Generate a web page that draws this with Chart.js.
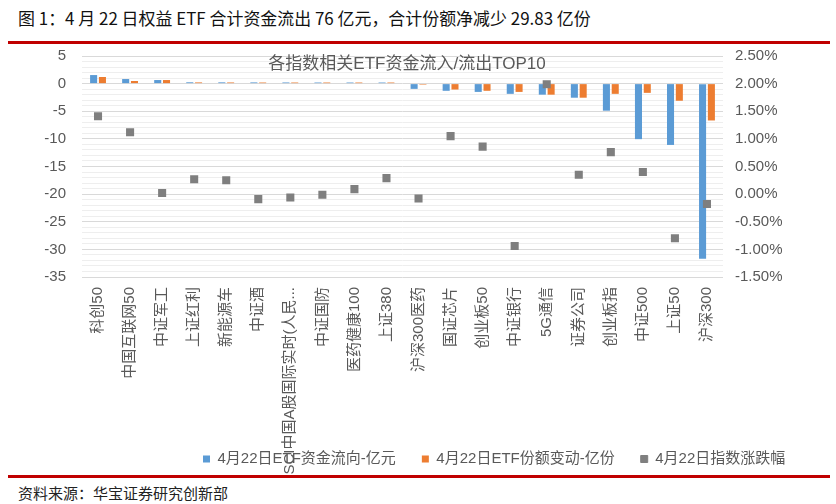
<!DOCTYPE html>
<html>
<head>
<meta charset="utf-8">
<script src="https://cdn.jsdelivr.net/npm/chart.js@4.4.1/dist/chart.umd.min.js"></script>
<style>
  body { margin: 0; background: #fff; width: 836px; height: 504px; position: relative; overflow: hidden; }
  #title { position: absolute; left: 18px; top: 5px; font: 17px "Noto Sans CJK SC", sans-serif; color: #111; white-space: nowrap; transform-origin: left top; }
  .redline { position: absolute; left: 8px; width: 822px; height: 3px; background: #c00000; }
  #chartTitle { position: absolute; left: 207px; width: 400px; top: 49px; text-align: center; font: 17px "Liberation Sans", "Noto Sans CJK SC", sans-serif; color: #595959; }
  #source { position: absolute; left: 18px; top: 482px; font: 15px "Noto Sans CJK SC", sans-serif; color: #222; white-space: nowrap; }
  #wrap { position: absolute; left: 0; top: 31px; }
</style>
</head>
<body>
<div id="title">图 1：4 月 22 日权益 ETF 合计资金流出 76 亿元，合计份额净减少 29.83 亿份</div>
<div class="redline" style="top:41px"></div>
<div id="wrap"><canvas id="myChart" width="836" height="445"></canvas></div>
<div id="chartTitle">各指数相关ETF资金流入/流出TOP10</div>
<div class="redline" style="top:475px"></div>
<div id="source">资料来源：华宝证券研究创新部</div>
<script>
const labels = ["科创50", "中国互联网50", "中证军工", "上证红利", "新能源车", "中证酒",
  "MSCI中国A股国际实时(人民...", "中证国防", "医药健康100", "上证380", "沪深300医药",
  "国证芯片", "创业板50", "中证银行", "5G通信", "证券公司", "创业板指", "中证500", "上证50", "沪深300"];

// 4月22日ETF资金流向-亿元
const flow = [1.55, 0.83, 0.65, 0.24, 0.23, 0.22, 0.21, 0.2, 0.2, 0.2,
  -0.95, -1.3, -1.5, -1.85, -2.0, -2.55, -4.9, -10.05, -11.1, -31.7];
// 4月22日ETF份额变动-亿份
const share = [1.2, 0.48, 0.65, 0.22, 0.21, 0.2, 0.2, 0.2, 0.2, 0.2,
  -0.18, -1.07, -1.3, -1.5, -2.0, -2.55, -1.85, -1.67, -3.1, -6.67];
// 4月22日指数涨跌幅 (%)
const pct = [1.41, 1.12, 0.02, 0.27, 0.25, -0.09, -0.06, -0.01, 0.09, 0.29,
  -0.08, 1.05, 0.86, -0.94, 1.99, 0.35, 0.76, 0.40, -0.80, -0.18];

const seriesNames = ["4月22日ETF资金流向-亿元", "4月22日ETF份额变动-亿份", "4月22日指数涨跌幅"];

// fit title to the original width
const t = document.getElementById("title");
t.style.transform = "scaleX(" + (573 / t.offsetWidth) + ")";

Chart.defaults.font.family = '"Liberation Sans", "Noto Sans CJK SC", sans-serif';
Chart.defaults.font.size = 15;
Chart.defaults.color = "#595959";

const CANVAS_H = 445;
const PLOT_BOTTOM = 246;

// place legend like the excel one, let the long label run under it
const legendPos = {
  id: "legendPos",
  afterLayout(chart) {
    const lg = chart.legend;
    lg.left = 203 - 26;
    lg.top = 428 - 26 - 7.5;
    chart.scales.x.bottom = CANVAS_H;
  },
};

new Chart(document.getElementById("myChart"), {
  type: "bar",
  data: {
    labels: labels,
    datasets: [
      {
        label: seriesNames[0],
        data: flow,
        backgroundColor: "#5b9bd5",
        yAxisID: "y",
        order: 1,
      },
      {
        label: seriesNames[1],
        data: share,
        backgroundColor: "#ed7d31",
        yAxisID: "y",
        order: 1,
      },
      {
        type: "line",
        label: seriesNames[2],
        data: pct,
        showLine: false,
        backgroundColor: "#7f7f7f",
        borderColor: "#7f7f7f",
        borderWidth: 1,
        pointStyle: "rect",
        pointRadius: 5.7,
        pointBorderWidth: 0,
        yAxisID: "y1",
        order: 0,
      },
    ],
  },
  options: {
    responsive: false,
    animation: false,
    categoryPercentage: 0.55,
    barPercentage: 0.8,
    layout: { padding: { top: 10, left: 0, right: 0, bottom: 0 } },
    plugins: {
      legend: {
        position: "bottom",
        align: "start",
        labels: {
          boxWidth: 7,
          boxHeight: 7,
          padding: 26,
          color: "#595959",
          font: { size: 15 },
          sort: (a, b) => a.datasetIndex - b.datasetIndex,
        },
      },
      tooltip: { enabled: false },
    },
    scales: {
      x: {
        grid: { display: false, drawTicks: false },
        border: { display: false },
        ticks: { minRotation: 90, maxRotation: 90, autoSkip: false, padding: 10 },
        afterFit: (s) => {
          const lh = s.chart.legend ? s.chart.legend.height : 0;
          s.height = CANVAS_H - PLOT_BOTTOM - lh;
        },
      },
      y: {
        position: "left",
        min: -35,
        max: 5,
        ticks: {
          stepSize: 1,
          autoSkip: false,
          padding: 16,
          callback: (v) => (v % 5 === 0 ? v : ""),
        },
        grid: {
          drawTicks: false,
          color: (ctx) => (ctx.tick && ctx.tick.value % 5 === 0 ? "#d9d9d9" : "#eeeeee"),
        },
        border: { display: false },
        afterFit: (s) => { s.width = 82; },
      },
      y1: {
        position: "right",
        min: -1.5,
        max: 2.5,
        ticks: {
          stepSize: 0.5,
          padding: 12,
          callback: (v) => v.toFixed(2) + "%",
        },
        grid: { display: false, drawTicks: false },
        border: { display: false },
        afterFit: (s) => { s.width = 113; },
      },
    },
  },
  plugins: [legendPos],
});
</script>
</body>
</html>
